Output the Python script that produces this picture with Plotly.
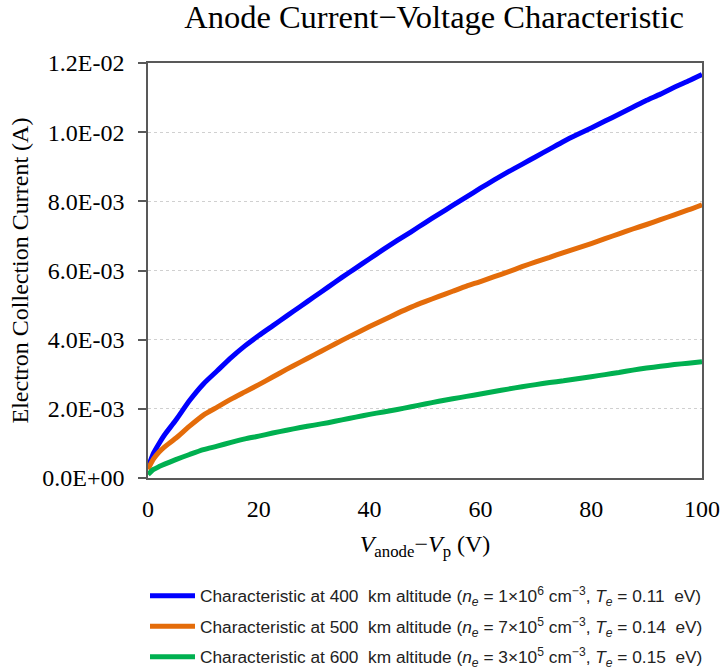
import plotly.graph_objects as go

# ---- data ----
voltage = [0, 1, 2, 3, 5, 7.5, 10, 12.5, 15, 17.5, 20, 22.5, 25, 27.5, 30, 32.5, 35, 37.5,
           40, 42.5, 45, 47.5, 50, 52.5, 55, 57.5, 60, 62.5, 65, 67.5, 70, 72.5, 75, 77.5,
           80, 82.5, 85, 87.5, 90, 92.5, 95, 97.5, 100]

# currents in mA (x1e-3 A)
current_400km = [0.30, 0.72, 1.00, 1.25, 1.67, 2.24, 2.72, 3.10, 3.48, 3.82, 4.12, 4.40, 4.68,
                 4.96, 5.24, 5.52, 5.80, 6.07, 6.34, 6.61, 6.87, 7.12, 7.38, 7.63, 7.88, 8.13,
                 8.38, 8.62, 8.85, 9.07, 9.29, 9.51, 9.73, 9.93, 10.12, 10.32, 10.52, 10.72,
                 10.92, 11.10, 11.30, 11.48, 11.67]

current_500km = [0.25, 0.55, 0.75, 0.90, 1.15, 1.50, 1.82, 2.05, 2.28, 2.49, 2.70, 2.92, 3.14,
                 3.35, 3.56, 3.77, 3.98, 4.18, 4.38, 4.57, 4.76, 4.94, 5.10, 5.25, 5.40, 5.55,
                 5.68, 5.82, 5.96, 6.11, 6.25, 6.38, 6.52, 6.65, 6.78, 6.92, 7.06, 7.20, 7.33,
                 7.47, 7.61, 7.75, 7.90]

current_600km = [0.10, 0.25, 0.33, 0.40, 0.53, 0.68, 0.82, 0.92, 1.03, 1.13, 1.21, 1.30, 1.38,
                 1.46, 1.53, 1.60, 1.68, 1.76, 1.84, 1.91, 1.98, 2.06, 2.14, 2.22, 2.29, 2.36,
                 2.43, 2.50, 2.57, 2.64, 2.70, 2.76, 2.81, 2.87, 2.93, 2.99, 3.05, 3.12, 3.18,
                 3.23, 3.28, 3.32, 3.36]

series_names = [
    "Characteristic at 400  km altitude (<i>n<sub>e</sub></i> = 1×10<sup>6</sup> cm<sup>−3</sup>, <i>T<sub>e</sub></i> = 0.11  eV)",
    "Characteristic at 500  km altitude (<i>n<sub>e</sub></i> = 7×10<sup>5</sup> cm<sup>−3</sup>, <i>T<sub>e</sub></i> = 0.14  eV)",
    "Characteristic at 600  km altitude (<i>n<sub>e</sub></i> = 3×10<sup>5</sup> cm<sup>−3</sup>, <i>T<sub>e</sub></i> = 0.15  eV)",
]
series_colors = ["#0000FF", "#E46C0A", "#00B050"]

y_tickvals = [0, 0.002, 0.004, 0.006, 0.008, 0.010, 0.012]
y_ticktext = ["0.0E+00", "2.0E-03", "4.0E-03", "6.0E-03", "8.0E-03", "1.0E-02", "1.2E-02"]
x_tickvals = [0, 20, 40, 60, 80, 100]
y_axis_title = "Electron Collection Current (A)"

serif = "Liberation Serif, Times New Roman, serif"

fig = go.Figure()
for name, vals, col in zip(series_names, [current_400km, current_500km, current_600km], series_colors):
    fig.add_trace(go.Scatter(
        x=voltage, y=[v * 1e-3 for v in vals], mode="lines", name=name,
        line=dict(color=col, width=5, shape="spline", smoothing=0.6),
        legendgroup=name,
    ))

fig.update_layout(
    width=723, height=670,
    margin=dict(l=148, r=21, t=63, b=192, autoexpand=False),
    paper_bgcolor="white", plot_bgcolor="white",
    title=dict(text="Anode Current−Voltage Characteristic",
               font=dict(family=serif, size=32.5, color="black"),
               x=434 / 723, xanchor="center", xref="container",
               y=1 - 5 / 670, yanchor="top", yref="container"),
    showlegend=True,
    legend=dict(
        xref="container", yref="container",
        x=145 / 723, xanchor="left",
        y=1 - 578 / 670, yanchor="top",
        font=dict(family="Liberation Sans, Arial, sans-serif", size=17.3, color="#222222"),
        traceorder="grouped", tracegroupgap=5,
        itemwidth=45, bgcolor="rgba(0,0,0,0)",
    ),
    xaxis=dict(
        range=[0, 100], tickvals=x_tickvals, ticks="",
        tickfont=dict(family=serif, size=24, color="black"),
        ticklabelstandoff=8,
        showline=True, linecolor="#595959", linewidth=1.5, mirror=True,
        showgrid=False, zeroline=False,
        title=dict(text="<i>V</i><sub>anode</sub>−<i>V</i><sub>p</sub> (V)",
                   font=dict(family=serif, size=24, color="black")),
    ),
    yaxis=dict(
        range=[0, 0.012], tickvals=y_tickvals, ticktext=y_ticktext,
        ticks="outside", ticklen=8, tickcolor="#595959", tickwidth=1.5,
        tickfont=dict(family=serif, size=24, color="black"),
        ticklabelstandoff=9,
        showline=True, linecolor="#595959", linewidth=1.5, mirror=True,
        showgrid=True, gridcolor="#d0d0d0", griddash="dot", gridwidth=1,
        zeroline=False,
    ),
    annotations=[dict(
        text=y_axis_title, textangle=-90, showarrow=False,
        xref="paper", yref="paper", x=-129 / 554, y=0.5,
        xanchor="center", yanchor="middle",
        font=dict(family=serif, size=24, color="black"),
    )],
)

fig.write_html("out.html")
